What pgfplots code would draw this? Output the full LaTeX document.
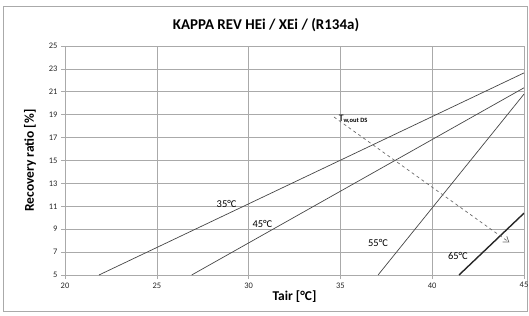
\documentclass[border=0pt]{standalone}
\usepackage{pgfplots}
\pgfplotsset{compat=1.18}
\usepackage{fontspec}
\setmainfont{Carlito}
\usetikzlibrary{arrows.meta}
\definecolor{gridc}{RGB}{170,170,170}
\definecolor{linec}{RGB}{70,70,70}
\begin{document}
\begin{tikzpicture}[x=1bp,y=1bp]
\useasboundingbox (0,0) rectangle (529,315);
\draw[gridc, line width=0.8bp] (3,4) rectangle (527,309);
\node[font=\fontsize{15}{18}\selectfont\bfseries] at (266,290) {KAPPA REV HEi / XEi / (R134a)};
\begin{axis}[
  at={(65bp,40bp)}, anchor=south west,
  scale only axis, width=459bp, height=229bp,
  xmin=20, xmax=45, ymin=5, ymax=25,
  xtick={20,25,...,45}, ytick={5,7,...,25},
  grid=major,
  grid style={gridc, line width=0.6bp},
  axis line style={gridc, line width=0.6bp},
  tick style={gridc, line width=0.6bp},
  tick align=outside, major tick length=4bp,
  xtick pos=bottom, ytick pos=left,
  tick label style={font=\fontsize{8.5}{10}\selectfont, black!85},
  /pgf/number format/assume math mode=true,
  xlabel={\bfseries Tair [°C]},
  ylabel={\bfseries Recovery ratio [\%]},
  label style={font=\fontsize{13.5}{15}\selectfont},
  xlabel style={yshift=4bp},
  ylabel style={yshift=6bp},
  clip=true,
]
\addplot[linec, line width=0.7bp] coordinates {(21.85,5) (45,22.65)};
\addplot[linec, line width=0.7bp] coordinates {(26.9,5) (45,21.35)};
\addplot[linec, line width=0.7bp] coordinates {(37.05,5) (45,20.8)};
\addplot[black!85, line width=1.4bp] coordinates {(41.46,5) (45,10.4)};
\addplot[linec!80, line width=0.7bp, dashed, -{Straight Barb[length=5bp,width=7bp]}] coordinates {(34.65,18.8) (44.2,7.85)};
\node[font=\fontsize{10.5}{12}\selectfont] at (axis cs:28.8,11.2) {35°C};
\node[font=\fontsize{10.5}{12}\selectfont] at (axis cs:30.75,9.45) {45°C};
\node[font=\fontsize{10.5}{12}\selectfont] at (axis cs:37.05,7.8) {55°C};
\node[font=\fontsize{10.5}{12}\selectfont] at (axis cs:41.4,6.65) {65°C};
\node[font=\fontsize{10}{11}\selectfont, anchor=west, inner sep=0pt] at (axis cs:34.9,18.6) {T\textsubscript{\fontsize{6.5}{7}\selectfont\bfseries w,out DS}};
\end{axis}
\end{tikzpicture}
\end{document}
